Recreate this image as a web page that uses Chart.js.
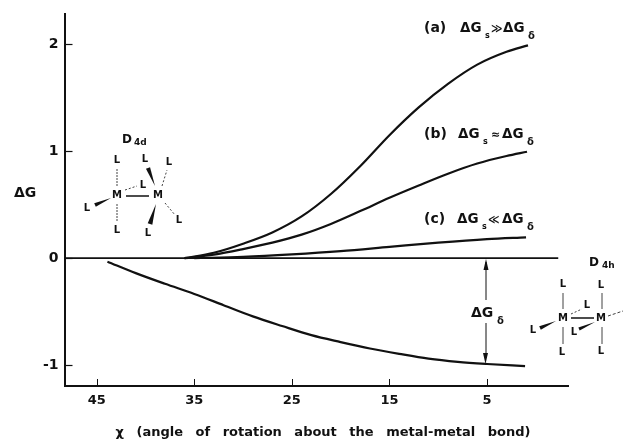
<!DOCTYPE html>
<html><head><meta charset="utf-8">
<script src="https://cdn.jsdelivr.net/npm/chart.js@4"></script>
<style>html,body{margin:0;padding:0;background:#fff}#w{width:624px;height:441px}</style>
</head><body><div id="w"><canvas id="c" width="624" height="441"></canvas></div>
<script>
const tickLabelsX = [45, 35, 25, 15, 5];
const tickLabelsY = [-1, 0, 1, 2];
const xA = [36, 33, 30, 27, 24, 21, 18, 15, 12, 9, 6, 3, 0.8];
const curveA = [0, 0.05, 0.135, 0.24, 0.39, 0.6, 0.86, 1.15, 1.41, 1.63, 1.81, 1.93, 1.99];
const xB = [36, 33, 30, 27, 24, 21, 18, 15, 12, 9, 6, 3, 0.9];
const curveB = [0, 0.033, 0.085, 0.145, 0.22, 0.32, 0.44, 0.565, 0.68, 0.79, 0.885, 0.955, 0.995];
const xC = [35, 30, 25, 20, 15, 10, 5, 1];
const curveC = [0, 0.012, 0.035, 0.065, 0.105, 0.145, 0.178, 0.195];
const xD = [43.9, 41, 38, 35, 32, 29, 26, 23, 20, 17, 14, 11, 8, 5, 1.1];
const curveD = [-0.033, -0.14, -0.24, -0.335, -0.44, -0.545, -0.635, -0.72, -0.785, -0.845, -0.895, -0.94, -0.97, -0.99, -1.01];
const zeroX = [48.3, -2.3];
const zeroY = [0, 0];
const xTitle = "χ (angle of rotation about the metal-metal bond)";
const series = (xs, ys) => xs.map((x, i) => ({x, y: ys[i]}));
const ink = "#111";
const FONT = '"DejaVu Sans"';
const curve = (xs, ys) => ({data: series(xs, ys), borderColor: ink, borderWidth: 2.2, pointRadius: 0, cubicInterpolationMode: "monotone", fill: false});

const notes = {
  id: "notes",
  afterDatasetsDraw(chart) {
    const c = chart.ctx;
    const txt = (s, x, y, size) => {
      c.font = "bold " + size + "px " + FONT;
      c.fillText(s, x, y);
    };
    const ln = (x1, y1, x2, y2, w = 1, dash = []) => {
      c.beginPath(); c.lineWidth = w; c.setLineDash(dash);
      c.moveTo(x1, y1); c.lineTo(x2, y2); c.stroke(); c.setLineDash([]);
    };
    const wedge = (x1, y1, x2, y2, w) => {
      const a = Math.atan2(y2 - y1, x2 - x1), nx = -Math.sin(a) * w, ny = Math.cos(a) * w;
      c.beginPath(); c.moveTo(x1, y1); c.lineTo(x2 + nx, y2 + ny); c.lineTo(x2 - nx, y2 - ny); c.closePath(); c.fill();
    };
    c.save();
    c.fillStyle = ink; c.strokeStyle = ink;

    // inward axis ticks
    const xs = chart.scales.x, ys = chart.scales.y;
    const xb = chart.chartArea.bottom, yl = chart.chartArea.left;
    tickLabelsX.forEach(v => { const p = Math.round(xs.getPixelForValue(v)) + 0.5; ln(p, xb, p, xb - 7, 1); });
    tickLabelsY.forEach(v => { const p = Math.round(ys.getPixelForValue(v)) + 0.5; ln(yl, p, yl + 8, p, 1.2); });

    c.textBaseline = "alphabetic"; c.textAlign = "left";
    const row = (lab, y, x1, xs1, op, xo, x2, xd) => {
      txt(lab, 424, y, 14);
      txt("ΔG", x1, y, 13.5);
      txt("s", xs1, y + 6, 8);
      txt(op, xo, y, 11);
      txt("ΔG", x2, y, 13.5);
      txt("δ", xd, y + 7, 10);
    };
    row("(a)", 32, 460, 485, "≫", 491, 503, 528);
    row("(b)", 138, 458, 483, "≈", 491, 502, 527);
    row("(c)", 223, 457, 482, "≪", 488, 502, 527);
    txt("ΔG", 14, 197, 14);
    txt("ΔG", 471, 317, 14); txt("δ", 497, 324, 10);
    txt("D", 122, 143, 12); txt("4d", 134, 145, 9);
    txt("D", 589, 266, 12); txt("4h", 602, 268, 9);

    // axis title
    c.save();
    c.textAlign = "center"; c.textBaseline = "middle";
    c.wordSpacing = "8px";
    txt(xTitle, 323, 433, 13);
    c.restore();

    // delta-delta arrow
    ln(486, 262, 486, 300, 1); ln(486, 323, 486, 358, 1);
    c.beginPath(); c.moveTo(486, 259); c.lineTo(483.5, 270); c.lineTo(488.5, 270); c.closePath(); c.fill();
    c.beginPath(); c.moveTo(485.5, 364); c.lineTo(483, 353); c.lineTo(488, 353); c.closePath(); c.fill();

    // D4d molecule
    c.textAlign = "center"; c.textBaseline = "middle";
    const L = (x, y) => txt("L", x, y, 10);
    const M = (x, y) => txt("M", x, y, 10);
    M(117, 195); M(158, 195);
    L(117, 160); L(145, 159); L(169, 162); L(143, 185); L(87, 208); L(117, 230); L(148, 233); L(179, 220);
    ln(126, 196, 149, 196, 1.5);
    ln(117, 169, 117, 186, 0.8, [2, 1]); ln(117, 204, 117, 222, 0.8, [2, 1]);
    ln(125, 190, 137, 186, 0.8, [2, 2]);
    wedge(111, 198, 95, 205, 2); wedge(155, 186, 148, 168, 2.2);
    wedge(156, 204, 150, 224, 2.4);
    ln(162, 186, 167, 170, 0.8, [2, 2]); ln(165, 203, 175, 215, 0.8, [2, 2]);

    // D4h molecule
    M(563, 318); M(601, 318);
    L(563, 284); L(601, 285); L(587, 305); L(533, 330); L(574, 332); L(562, 352); L(601, 351);
    ln(571, 318, 594, 318, 1.5);
    ln(563, 293, 563, 309, 0.8); ln(563, 327, 563, 344, 0.8);
    ln(602, 293, 602, 309, 0.8); ln(602, 327, 602, 344, 0.8);
    ln(571, 314, 582, 309, 0.8, [2, 2]); ln(608, 316, 623, 311, 0.8, [3, 2]);
    wedge(556, 321, 540, 328, 2); wedge(595, 322, 579, 329, 1.6);
    c.restore();
  }
};

new Chart(document.getElementById("c"), {
  type: "line",
  data: {datasets: [
    curve(xA, curveA), curve(xB, curveB), curve(xC, curveC), curve(xD, curveD),
    {data: series(zeroX, zeroY), borderColor: ink, borderWidth: 1.6, pointRadius: 0}
  ]},
  plugins: [notes],
  options: {
    responsive: false, animation: false,
    layout: {padding: {left: 0, right: 56, top: 2, bottom: 0}},
    plugins: {legend: {display: false}, tooltip: {enabled: false}},
    scales: {
      x: {
        type: "linear", reverse: true, min: -3.3, max: 48.3,
        afterBuildTicks: a => { a.ticks = tickLabelsX.map(value => ({value})); },
        afterFit: a => { a.height = 55; },
        border: {color: ink, width: 2},
        grid: {display: true, drawOnChartArea: false, drawTicks: false},
        ticks: {color: ink, padding: 7, maxRotation: 0, font: {family: "DejaVu Sans", size: 13, weight: "bold"}}
      },
      y: {
        min: -1.196, max: 2.28,
        afterBuildTicks: a => { a.ticks = tickLabelsY.map(value => ({value})); },
        afterFit: a => { a.width = 64.5; },
        border: {color: ink, width: 2},
        grid: {display: true, drawOnChartArea: false, drawTicks: false},
        ticks: {color: ink, padding: 6, font: {family: "DejaVu Sans", size: 14, weight: "bold"}}
      }
    }
  }
});
</script></body></html>
